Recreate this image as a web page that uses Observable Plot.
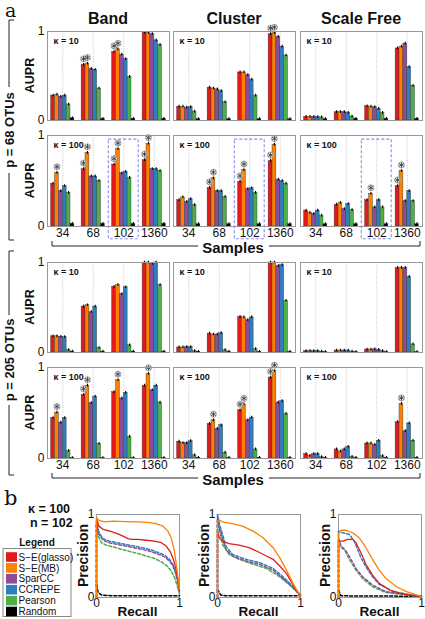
<!DOCTYPE html>
<html><head><meta charset="utf-8">
<script src="https://cdn.jsdelivr.net/npm/d3@7"></script>
<script src="https://cdn.jsdelivr.net/npm/@observablehq/plot@0.6"></script>
<style>
body{margin:0;background:#fff;}
#fig{position:relative;width:425px;height:619px;overflow:hidden;font-family:"Liberation Sans",Arial,sans-serif;background:#fff;}
#fig svg{background:transparent !important;overflow:visible !important;max-width:none !important;}
</style></head><body><div id="fig"></div>
<script>
// ---------- categories ----------
const groups = ["34", "68", "102", "1360"];
const methods = ["S\u2212E(glasso)", "S\u2212E(MB)", "SparCC", "CCREPE", "Pearson", "Random"];
const colors = ["#e31a1c", "#ff8000", "#8e4b9c", "#2f7ebc", "#4dae4a", "#000000"];
const networks = ["Band", "Cluster", "Scale Free"];
const highlightGroup = "102";

// ---------- AUPR values: [group][method] ----------
// p = 68 OTUs, kappa = 10
const band68k10    = [[0.28,0.29,0.265,0.28,0.18,0.025],[0.625,0.64,0.58,0.57,0.36,0.02],[0.77,0.80,0.74,0.69,0.49,0.02],[0.985,0.985,0.97,0.90,0.85,0.02]];
const cluster68k10 = [[0.155,0.155,0.145,0.15,0.10,0.015],[0.37,0.36,0.35,0.33,0.205,0.015],[0.54,0.54,0.51,0.46,0.28,0.015],[0.97,0.98,0.94,0.83,0.73,0.015]];
const sf68k10      = [[0.04,0.04,0.042,0.037,0.035,0.015],[0.095,0.095,0.095,0.085,0.045,0.02],[0.16,0.155,0.15,0.13,0.085,0.02],[0.81,0.83,0.865,0.60,0.39,0.02]];
// p = 68 OTUs, kappa = 100
const band68k100    = [[0.47,0.59,0.39,0.445,0.37,0.03],[0.63,0.81,0.55,0.55,0.50,0.03],[0.68,0.85,0.585,0.60,0.535,0.03],[0.73,0.91,0.63,0.63,0.61,0.03]];
const cluster68k100 = [[0.29,0.32,0.27,0.30,0.235,0.025],[0.425,0.53,0.39,0.39,0.325,0.025],[0.49,0.62,0.41,0.42,0.37,0.025],[0.72,0.90,0.515,0.50,0.47,0.025]];
const sf68k100      = [[0.175,0.15,0.14,0.175,0.12,0.025],[0.24,0.26,0.19,0.245,0.18,0.025],[0.29,0.36,0.21,0.29,0.21,0.025],[0.445,0.61,0.28,0.39,0.28,0.025]];
// p = 205 OTUs, kappa = 10
const band205k10    = [[0.18,0.18,0.175,0.17,0.026,0.01],[0.51,0.525,0.45,0.51,0.05,0.01],[0.73,0.75,0.65,0.725,0.08,0.01],[1,1,0.985,1,0.75,0.01]];
const cluster205k10 = [[0.056,0.056,0.06,0.06,0.015,0.008],[0.21,0.20,0.20,0.215,0.026,0.008],[0.395,0.39,0.36,0.39,0.037,0.008],[1,1,0.96,0.97,0.575,0.008]];
const sf205k10      = [[0.015,0.015,0.015,0.015,0.01,0.005],[0.022,0.022,0.022,0.022,0.01,0.005],[0.033,0.033,0.035,0.03,0.015,0.005],[0.94,0.94,0.94,0.84,0.09,0.005]];
// p = 205 OTUs, kappa = 100
const band205k100    = [[0.445,0.505,0.395,0.445,0.085,0.005],[0.70,0.80,0.61,0.68,0.16,0.005],[0.73,0.86,0.66,0.72,0.24,0.005],[0.80,0.93,0.75,0.80,0.615,0.005]];
const cluster205k100 = [[0.185,0.17,0.17,0.19,0.035,0.008],[0.38,0.42,0.325,0.365,0.065,0.008],[0.53,0.595,0.42,0.45,0.10,0.008],[0.89,0.96,0.615,0.63,0.49,0.008]];
const sf205k100      = [[0.048,0.03,0.048,0.048,0.015,0.007],[0.10,0.077,0.10,0.128,0.018,0.007],[0.165,0.165,0.15,0.195,0.026,0.007],[0.40,0.60,0.30,0.385,0.195,0.007]];

// ---------- significance stars: [groupIndex, methodIndex] ----------
const starsBand68k10 = [[1,0],[1,1],[2,0],[2,1]];
const starsCluster68k10 = [[3,0],[3,1]];
const starsSf68k10 = [];
const starsBand68k100 = [[0,1],[1,0],[1,1],[2,0],[2,1],[3,0],[3,1]];
const starsCluster68k100 = [[1,0],[1,1],[2,0],[2,1],[3,0],[3,1]];
const starsSf68k100 = [[2,1],[3,0],[3,1]];
const starsNone = [];
const starsBand205k100 = [[0,1],[1,0],[1,1],[2,1],[3,1]];
const starsCluster205k100 = [[1,1],[2,0],[2,1],[3,0],[3,1]];
const starsSf205k100 = [[3,1]];

// ---------- precision-recall curves (kappa = 100, n = 102): [recall, precision] ----------
const prBandGlasso  = [[0,0],[0,0.95],[0.03,0.86],[0.08,0.82],[0.16,0.80],[0.25,0.77],[0.32,0.74],[0.38,0.71],[0.42,0.70],[0.5,0.70],[0.6,0.69],[0.7,0.68],[0.78,0.66],[0.84,0.62],[0.89,0.55],[0.93,0.45],[0.96,0.33],[0.98,0.2],[1,0.08]];
const prBandMB      = [[0,0],[0,0.96],[0.03,0.93],[0.1,0.91],[0.2,0.92],[0.35,0.915],[0.5,0.91],[0.62,0.905],[0.72,0.89],[0.8,0.86],[0.86,0.8],[0.9,0.72],[0.93,0.6],[0.95,0.48],[0.97,0.33],[0.99,0.18],[1,0.1]];
const prBandSparCC  = [[0,0],[0,0.9],[0.03,0.76],[0.08,0.69],[0.15,0.66],[0.25,0.64],[0.35,0.62],[0.45,0.60],[0.55,0.58],[0.65,0.555],[0.75,0.52],[0.82,0.49],[0.88,0.44],[0.92,0.38],[0.95,0.3],[0.98,0.19],[1,0.08]];
const prBandCCREPE  = [[0,0],[0,0.92],[0.03,0.78],[0.08,0.71],[0.15,0.68],[0.25,0.66],[0.35,0.64],[0.45,0.62],[0.55,0.60],[0.65,0.575],[0.75,0.54],[0.82,0.51],[0.88,0.46],[0.92,0.40],[0.95,0.32],[0.98,0.2],[1,0.08]];
const prBandPearson = [[0,0],[0,0.88],[0.02,0.74],[0.06,0.66],[0.12,0.63],[0.2,0.61],[0.3,0.58],[0.4,0.555],[0.5,0.53],[0.6,0.50],[0.7,0.47],[0.78,0.43],[0.85,0.38],[0.9,0.32],[0.94,0.24],[0.97,0.15],[1,0.04]];
const prBandRandom  = [[0,0.16],[0.02,0.06],[0.06,0.03],[0.2,0.02],[1,0.02]];

const prClusterGlasso  = [[0,0],[0,0.8],[0.02,0.72],[0.06,0.68],[0.14,0.65],[0.26,0.63],[0.38,0.60],[0.47,0.56],[0.59,0.50],[0.67,0.46],[0.75,0.38],[0.83,0.29],[0.91,0.15],[1,0.01]];
const prClusterMB      = [[0,0],[0,0.92],[0.03,0.93],[0.06,0.91],[0.18,0.89],[0.30,0.86],[0.43,0.80],[0.55,0.72],[0.67,0.60],[0.75,0.48],[0.83,0.33],[0.91,0.17],[1,0.01]];
const prClusterSparCC  = [[0,0],[0,0.96],[0.02,0.85],[0.1,0.58],[0.18,0.50],[0.34,0.44],[0.51,0.40],[0.67,0.33],[0.79,0.23],[0.91,0.12],[1,0.02]];
const prClusterCCREPE  = [[0,0],[0,1.0],[0.02,0.9],[0.1,0.62],[0.18,0.52],[0.34,0.46],[0.51,0.42],[0.67,0.35],[0.79,0.25],[0.91,0.13],[1,0.03]];
const prClusterPearson = [[0,0],[0,0.92],[0.06,0.64],[0.14,0.52],[0.26,0.46],[0.43,0.40],[0.59,0.35],[0.75,0.25],[0.87,0.15],[1,0.03]];
const prClusterRandom  = [[0,0.1],[0.04,0.03],[0.1,0.02],[1,0.02]];

const prSfGlasso  = [[0,0],[0,0.68],[0.05,0.68],[0.11,0.70],[0.17,0.70],[0.21,0.66],[0.27,0.54],[0.33,0.40],[0.41,0.27],[0.49,0.17],[0.62,0.09],[0.78,0.04],[1,0.01]];
const prSfMB      = [[0,0],[0,0.76],[0.03,0.81],[0.09,0.81],[0.17,0.78],[0.25,0.72],[0.33,0.60],[0.41,0.46],[0.49,0.33],[0.57,0.23],[0.70,0.13],[0.82,0.07],[1,0.01]];
const prSfSparCC  = [[0,0],[0,0.72],[0.03,0.62],[0.09,0.56],[0.15,0.46],[0.21,0.35],[0.29,0.25],[0.41,0.15],[0.57,0.07],[1,0.01]];
const prSfCCREPE  = [[0,0],[0,0.80],[0.05,0.78],[0.13,0.76],[0.19,0.68],[0.27,0.48],[0.33,0.37],[0.41,0.25],[0.49,0.16],[0.66,0.07],[1,0.01]];
const prSfPearson = [[0,0],[0,0.62],[0.03,0.60],[0.07,0.58],[0.13,0.46],[0.21,0.33],[0.29,0.23],[0.41,0.13],[0.57,0.06],[1,0.01]];
const prSfRandom  = [[0,0.09],[0.03,0.02],[1,0.015]];

// ---------- layout ----------
const FONT = "Liberation Sans, Arial, sans-serif";
const fig = document.getElementById("fig");
function place(node, left, top) {
  const d = document.createElement("div");
  d.style.cssText = `position:absolute;left:${left}px;top:${top}px;`;
  d.appendChild(node);
  fig.appendChild(d);
}
const colX = [47, 173, 300], colW = 122;
const rowY = [31, 135, 262, 367], rowH = [89, 91, 90, 91];
const mL = 16, mR = 3, mT = 4, mB = 20;

function barPanel(vals, stars, ci, ri, kappa, showX, box) {
  const rows = [];
  vals.forEach((g, gi) => g.forEach((v, mi) => rows.push({gi, mi, v, star: stars.some(s => s[0] === gi && s[1] === mi)})));
  const bw = 0.127;
  const x1 = d => d.gi + (d.mi - 3) * bw;
  const x2 = d => d.gi + (d.mi - 2) * bw;
  const xc = d => d.gi + (d.mi - 2.5) * bw;
  const starred = rows.filter(d => d.star);
  const marks = [
    Plot.gridX([0, 1, 2, 3], {stroke: "#b5b5b5", strokeOpacity: 1, strokeDasharray: "1,1.5", strokeWidth: 0.8}),
    Plot.rect(rows, {x1, x2, y1: 0, y2: "v", fill: d => colors[d.mi], stroke: "#333", strokeWidth: 0.4}),
    Plot.ruleX(rows, {x: xc, y1: d => Math.max(0, d.v - 0.015), y2: d => d.v + 0.015, stroke: "black", strokeWidth: 1.1}),
    Plot.dot(starred, {x: xc, y: "v", dy: -6, r: 3.1, fill: "#e6e6e6", stroke: "#9a9a9a", strokeWidth: 0.8}),
    Plot.dot(starred, {x: xc, y: "v", dy: -6, r: 2.6, symbol: "asterisk", stroke: "#333", strokeWidth: 0.8}),
    Plot.frame({stroke: "#999", strokeWidth: 1}),
    Plot.text([kappa], {frameAnchor: "top-left", dx: 6, dy: 6, text: d => d, fontWeight: "bold", fontSize: 9, fill: "#111"})
  ];
  if (box) {
    marks.push(Plot.rect([highlightGroup], {
      x1: d => groups.indexOf(d) - 0.49, x2: d => groups.indexOf(d) + 0.49,
      y1: -0.14, y2: 0.955, fill: "none", stroke: "#8a8aef", strokeWidth: 1.1, strokeDasharray: "3,2"
    }));
  }
  const p = Plot.plot({
    width: colW + mL + mR, height: rowH[ri] + mT + mB,
    marginLeft: mL, marginRight: mR, marginTop: mT, marginBottom: mB,
    style: {background: "transparent", overflow: "visible", fontFamily: FONT, fontSize: "12px", color: "#111"},
    x: {type: "linear", domain: [-0.5, 3.5], ticks: [0, 1, 2, 3], tickFormat: i => groups[i], tickSize: 0, tickPadding: 1.5, label: null, axis: showX ? "bottom" : null},
    y: {domain: [0, 1], ticks: [0, 1], tickFormat: d => String(d), tickSize: 0, tickPadding: 3, label: null, axis: ci === 0 ? "left" : null},
    marks
  });
  place(p, colX[ci] - mL, rowY[ri] - mT);
}

barPanel(band68k10, starsBand68k10, 0, 0, "\u03ba = 10", false, false);
barPanel(cluster68k10, starsCluster68k10, 1, 0, "\u03ba = 10", false, false);
barPanel(sf68k10, starsSf68k10, 2, 0, "\u03ba = 10", false, false);
barPanel(band68k100, starsBand68k100, 0, 1, "\u03ba = 100", true, true);
barPanel(cluster68k100, starsCluster68k100, 1, 1, "\u03ba = 100", true, true);
barPanel(sf68k100, starsSf68k100, 2, 1, "\u03ba = 100", true, true);
barPanel(band205k10, starsNone, 0, 2, "\u03ba = 10", false, false);
barPanel(cluster205k10, starsNone, 1, 2, "\u03ba = 10", false, false);
barPanel(sf205k10, starsNone, 2, 2, "\u03ba = 10", false, false);
barPanel(band205k100, starsBand205k100, 0, 3, "\u03ba = 100", true, false);
barPanel(cluster205k100, starsCluster205k100, 1, 3, "\u03ba = 100", true, false);
barPanel(sf205k100, starsSf205k100, 2, 3, "\u03ba = 100", true, false);

// ---------- PR curves ----------
const prX = [96, 217, 338], prY = 514, prW = 83, prH = 83;
const pmL = 10, pmR = 4, pmT = 6, pmB = 14;
function prPanel(curves, i) {
  const order = [5, 4, 2, 3, 0, 1];
  const marks = [Plot.frame({stroke: "#999", strokeWidth: 1})];
  order.forEach(mi => {
    marks.push(Plot.line(curves[mi], {
      x: d => d[0], y: d => d[1], stroke: colors[mi],
      strokeWidth: mi < 2 ? 1.3 : 1.5,
      strokeDasharray: mi < 2 ? null : "3,2"
    }));
  });
  const p = Plot.plot({
    width: prW + pmL + pmR, height: prH + pmT + pmB,
    marginLeft: pmL, marginRight: pmR, marginTop: pmT, marginBottom: pmB,
    style: {background: "transparent", overflow: "visible", fontFamily: FONT, fontSize: "12px", color: "#111"},
    x: {domain: [0, 1], ticks: [0, 1], tickFormat: d => String(d), tickSize: 0, tickPadding: 1, label: null},
    y: {domain: [0, 1], ticks: [0, 1], tickFormat: d => String(d), tickSize: 0, tickPadding: 2, label: null},
    marks
  });
  place(p, prX[i] - pmL, prY - pmT);
}
prPanel([prBandGlasso, prBandMB, prBandSparCC, prBandCCREPE, prBandPearson, prBandRandom], 0);
prPanel([prClusterGlasso, prClusterMB, prClusterSparCC, prClusterCCREPE, prClusterPearson, prClusterRandom], 1);
prPanel([prSfGlasso, prSfMB, prSfSparCC, prSfCCREPE, prSfPearson, prSfRandom], 2);

// ---------- annotations ----------
const svg = d3.select(fig).append("svg")
  .attr("width", 425).attr("height", 619)
  .style("position", "absolute").style("left", "0px").style("top", "0px")
  .style("pointer-events", "none").style("font-family", FONT);

function txt(x, y, s, opts = {}) {
  const t = svg.append("text").attr("x", x).attr("y", y).text(s)
    .attr("font-size", opts.size || 12).attr("font-weight", opts.bold ? "bold" : "normal")
    .attr("text-anchor", opts.anchor || "start").attr("fill", opts.fill || "#111");
  if (opts.family) t.attr("font-family", opts.family);
  if (opts.rotate) t.attr("transform", `rotate(-90 ${x} ${y})`).attr("dominant-baseline", "central");
  return t;
}
function line(x1, y1, x2, y2, color = "#222", w = 1) {
  svg.append("line").attr("x1", x1).attr("y1", y1).attr("x2", x2).attr("y2", y2).attr("stroke", color).attr("stroke-width", w);
}

// panel letters
txt(5, 17, "a", {size: 19, family: "DejaVu Serif, Liberation Serif, serif"});
txt(4, 505, "b", {size: 21, family: "DejaVu Serif, Liberation Serif, serif"});

// column titles
networks.forEach((n, ci) => txt(colX[ci] + colW / 2, 24, n, {size: 16, bold: true, anchor: "middle"}));

// AUPR labels
rowY.forEach((y, ri) => txt(30, y + rowH[ri] / 2, "AUPR", {size: 12.5, bold: true, anchor: "middle", rotate: true}));

// p = ... OTUs brackets
txt(9, 130, "p = 68 OTUs", {size: 13, bold: true, anchor: "middle", rotate: true});
line(9, 20, 9, 87); line(9, 173, 9, 240); line(9, 20, 14, 20); line(9, 240, 14, 240);
txt(9, 360, "p = 205 OTUs", {size: 13, bold: true, anchor: "middle", rotate: true});
line(9, 251, 9, 315); line(9, 405, 9, 475); line(9, 251, 14, 251); line(9, 475, 14, 475);

// Samples labels
[[246], [478]].forEach(([y]) => {
  txt(233, y + 7, "Samples", {size: 15, bold: true, anchor: "middle"});
  line(52, y, 198, y); line(269, y, 420, y);
  line(52, y - 5, 52, y); line(420, y - 5, 420, y);
});

// panel b text
txt(28, 513, "\u03ba = 100", {size: 12.5, bold: true});
txt(30, 527, "n = 102", {size: 12.5, bold: true});

// PR axis titles
prX.forEach(x => {
  txt(x - 13, prY + prH / 2, "Precision", {size: 14, bold: true, anchor: "middle", rotate: true});
  txt(x + prW / 2, 616, "Recall", {size: 13.5, bold: true, anchor: "middle"});
});

// legend
txt(37, 546, "Legend", {size: 10, bold: true, anchor: "middle"});
svg.append("rect").attr("x", 3).attr("y", 548.5).attr("width", 68).attr("height", 68)
  .attr("fill", "white").attr("stroke", "#888").attr("stroke-width", 1);
methods.forEach((m, i) => {
  const cy = 557 + i * 10.9;
  svg.append("rect").attr("x", 6).attr("y", cy - 4.8).attr("width", 11).attr("height", 9.6).attr("fill", colors[i]);
  txt(18.5, cy + 3.6, m, {size: 10});
});
</script></body></html>
